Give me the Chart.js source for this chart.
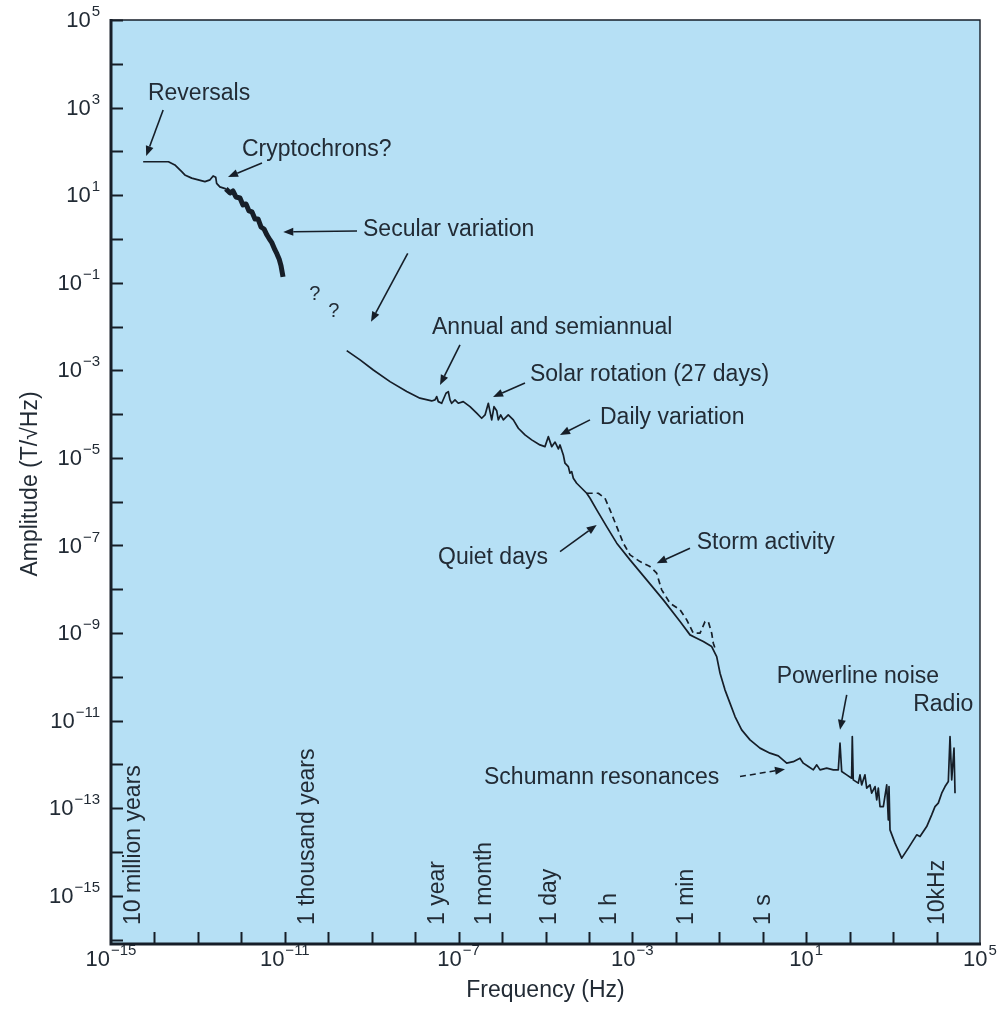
<!DOCTYPE html>
<html>
<head>
<meta charset="utf-8">
<script src="https://cdn.jsdelivr.net/npm/chart.js@4.4.1/dist/chart.umd.min.js"></script>
<style>
  html, body { margin: 0; padding: 0; background: #ffffff; }
  #wrap { width: 1000px; height: 1014px; }
</style>
</head>
<body>
<div id="wrap"><canvas id="c" width="1000" height="1014"></canvas></div>
<script>
// Geomagnetic field amplitude spectrum, frequency (Hz) vs amplitude (T/√Hz)

// Reversals and cryptochrons (thin trace)
const reversals = [
  [5.5e-15, 58], [2.1e-14, 58], [2.95e-14, 49], [4.3e-14, 34], [5.0e-14, 29],
  [7.2e-14, 24.5], [1.02e-13, 22.4], [1.45e-13, 20.4], [1.9e-13, 22.4], [2.24e-13, 27.5],
  [2.57e-13, 25.7], [2.7e-13, 18.6], [3.2e-13, 15.5], [4.4e-13, 13.9]
];

// Secular variation (dense, noisy trace)
const secular = [
  [4.4e-13, 13.9], [5.5e-13, 11.2], [6.4e-13, 12.5], [7.5e-13, 9.1], [9.3e-13, 8.6],
  [1.09e-12, 5.97], [1.28e-12, 6.3], [1.5e-12, 4.36], [1.76e-12, 4.13], [2.06e-12, 2.86],
  [2.42e-12, 2.86], [2.83e-12, 1.88], [3.32e-12, 1.69], [3.89e-12, 1.23], [4.56e-12, 0.95],
  [5.07e-12, 0.81], [5.94e-12, 0.56], [6.6e-12, 0.455], [7.4e-12, 0.35], [8.2e-12, 0.242],
  [9.1e-12, 0.136]
];

// Quiet-day spectrum from decades down to radio frequencies
const quiet = [
  [2.66e-10, 2.82e-3], [5.4e-10, 1.73e-3], [1.09e-9, 1.02e-3], [2.64e-9, 5.52e-4], [6.4e-9, 3.27e-4],
  [1.29e-8, 2.31e-4], [2.4e-8, 2.0e-4], [2.86e-8, 2.11e-4], [3.13e-8, 2.51e-4], [3.41e-8, 1.93e-4],
  [4.08e-8, 1.77e-4], [5.13e-8, 3.0e-4], [5.8e-8, 3.27e-4], [6.34e-8, 2.11e-4], [6.93e-8, 1.77e-4],
  [8.26e-8, 2.11e-4], [9.84e-8, 1.77e-4], [1.28e-7, 1.93e-4], [1.83e-7, 1.48e-4], [2.61e-7, 1.05e-4],
  [3.4e-7, 8.05e-5], [4.06e-7, 9.6e-5], [4.83e-7, 1.77e-4], [5.28e-7, 1.14e-4], [5.78e-7, 7.38e-5],
  [6.53e-7, 1.48e-4], [7.53e-7, 1.2e-4], [8.2e-7, 7.38e-5], [9.31e-7, 9.6e-5], [1.07e-6, 7.38e-5],
  [1.39e-6, 9.6e-5], [1.82e-6, 7.38e-5], [2.37e-6, 4.76e-5], [3.37e-6, 3.35e-5], [4.81e-6, 2.58e-5],
  [7.46e-6, 1.98e-5], [9.73e-6, 1.81e-5], [1.16e-5, 3.06e-5], [1.39e-5, 1.81e-5], [1.66e-5, 2.3e-5],
  [1.98e-5, 1.6e-5], [2.16e-5, 1.98e-5], [2.57e-5, 1.17e-5], [2.81e-5, 7.57e-6], [3.35e-5, 6.32e-6],
  [3.66e-5, 4.48e-6], [4.01e-5, 4.86e-6], [4.37e-5, 3.44e-6], [5.22e-5, 2.64e-6], [6.81e-5, 2.03e-6],
  [8.87e-5, 1.56e-6], [1.06e-4, 1.2e-6], [1.51e-4, 6.5e-7], [2.56e-4, 2.7e-7], [4.36e-4, 1.13e-7],
  [8.81e-4, 4.69e-8], [2.13e-3, 1.64e-8], [5.14e-3, 5.73e-9], [1.25e-2, 1.83e-9], [2.12e-2, 9.1e-10],
  [3.02e-2, 7.66e-10], [4.29e-2, 6.4e-10], [6.68e-2, 4.92e-10], [8.71e-2, 2.91e-10], [0.104, 1.21e-10],
  [0.135, 5.05e-11], [0.176, 2.51e-11], [0.23, 1.24e-11], [0.327, 6.17e-12], [0.509, 3.65e-12],
  [0.865, 2.36e-12], [1.47, 1.81e-12], [2.28, 1.57e-12], [3.56, 1.07e-12], [5.05, 1.16e-12],
  [7.19, 1.39e-12], [8.57, 1.07e-12], [11.2, 8.95e-13], [14.6, 7.53e-13], [17.5, 9.8e-13],
  [20.8, 7.53e-13], [29.6, 8.22e-13], [42.1, 7.53e-13], [54.8, 7.53e-13], [60, 3.06e-12],
  [65.6, 6.89e-13], [85.5, 5.79e-13], [111, 4.86e-13], [115, 4.34e-12], [121, 4.45e-13],
  [158, 3.74e-13], [173, 5.79e-13], [189, 3.42e-13], [225, 5.79e-13], [247, 2.88e-13],
  [294, 3.42e-13], [321, 2.21e-13], [384, 3.13e-13], [420, 1.56e-13], [457, 2.88e-13],
  [500, 1.09e-13], [596, 1.09e-13], [713, 3.42e-13], [776, 5.43e-14], [805, 3.13e-13],
  [849, 3.21e-14], [1107, 1.6e-14], [1578, 7.26e-15], [2239, 1.23e-14], [3491, 2.47e-14],
  [4159, 2.26e-14], [5929, 3.82e-14], [7727, 7.06e-14], [9204, 1.09e-13], [10965, 1.31e-13],
  [13152, 2.21e-13], [15668, 3.13e-13], [18664, 4.07e-13], [20417, 4.34e-12], [22336, 4.45e-13],
  [25235, 2.36e-12], [26607, 2.21e-13]
];

// Storm-time spectrum (dashed)
const storm = [
  [8.87e-5, 1.56e-6], [1.64e-4, 1.56e-6], [2.34e-4, 1.2e-6], [3.05e-4, 6.5e-7], [4.36e-4, 2.7e-7],
  [6.18e-4, 1.13e-7], [8.81e-4, 6.1e-8], [1.5e-3, 4.29e-8], [2.54e-3, 3.3e-8], [3.62e-3, 2.33e-8],
  [4.72e-3, 9.7e-9], [7.35e-3, 4.81e-9], [1.25e-2, 3.39e-9], [1.78e-2, 2.0e-9], [2.52e-2, 9.95e-10],
  [3.6e-2, 9.95e-10], [4.69e-2, 1.83e-9], [5.58e-2, 1.83e-9], [6.68e-2, 9.95e-10], [7.28e-2, 5.87e-10],
  [7.96e-2, 4.52e-10]
];

// Axis tick decades and labelled powers of ten
const xTickPowers = [-14, -13, -12, -11, -10, -9, -8, -7, -6, -5, -4, -3, -2, -1, 0, 1, 2, 3, 4];
const xLabelPowers = [-15, -11, -7, -3, 1, 5];
const yTickPowers = [-16, -15, -14, -13, -12, -11, -10, -9, -8, -7, -6, -5, -4, -3, -2, -1, 0, 1, 2, 3, 4];
const yLabelPowers = [5, 3, 1, -1, -3, -5, -7, -9, -11, -13, -15];

// Characteristic periods marked along the frequency axis
const periodNames = ['10 million years', '1 thousand years', '1 year', '1 month', '1 day', '1 h', '1 min', '1 s', '10kHz'];
const periodFreqs = [3.17e-15, 3.17e-11, 3.17e-8, 3.8e-7, 1.16e-5, 2.78e-4, 1.67e-2, 1, 1e4];

// Callouts: text anchor and arrow ends given as log10(frequency), log10(amplitude)
const notes = [
  { text: 'Reversals', at: [-14.15, 3.31], arrows: [[[-13.80, 2.945], [-14.19, 1.895]]] },
  { text: 'Cryptochrons?', at: [-11.985, 2.03], arrows: [[[-11.525, 1.735], [-12.307, 1.416]]] },
  { text: 'Secular variation', at: [-9.20, 0.205], arrows: [[[-9.338, 0.183], [-11.035, 0.160]], [[-8.171, -0.327], [-9.016, -1.888]]] },
  { text: '?', at: [-10.436, -1.279], size: 20 },
  { text: '?', at: [-9.999, -1.660], size: 20 },
  { text: 'Annual and semiannual', at: [-7.612, -2.032], arrows: [[[-6.968, -2.42], [-7.428, -3.333]]] },
  { text: 'Solar rotation (27 days)', at: [-5.357, -3.105], arrows: [[[-5.472, -3.288], [-6.208, -3.607]]] },
  { text: 'Daily variation', at: [-3.746, -4.087], arrows: [[[-3.976, -4.132], [-4.666, -4.475]]] },
  { text: 'Quiet days', at: [-7.474, -7.283], arrows: [[[-4.666, -7.139], [-3.822, -6.530]]] },
  { text: 'Storm activity', at: [-1.52, -6.941], arrows: [[[-1.674, -7.062], [-2.441, -7.408]]] },
  { text: 'Powerline noise', at: [0.321, -9.993], arrows: [[[1.932, -10.411], [1.778, -11.21]]] },
  { text: 'Radio', at: [4.846, -10.639], align: 'right' },
  { text: 'Schumann resonances', at: [-6.415, -12.306], arrows: [[[-0.524, -12.276], [0.512, -12.107]]], dashed: true }
];

const INK = '#161e28';
const TEXT = '#222b35';
const PANEL = '#b6e0f5';
const FONT = '"Liberation Sans", Arial, Helvetica, sans-serif';

const toPoints = arr => arr.map(p => ({ x: p[0], y: p[1] }));

function arrow(ctx, x1, y1, x2, y2, dashed) {
  const ang = Math.atan2(y2 - y1, x2 - x1);
  const head = 10, half = 4;
  const bx = x2 - head * Math.cos(ang), by = y2 - head * Math.sin(ang);
  ctx.save();
  ctx.strokeStyle = INK;
  ctx.fillStyle = INK;
  ctx.lineWidth = 1.6;
  if (dashed) ctx.setLineDash([6, 4]);
  ctx.beginPath();
  ctx.moveTo(x1, y1);
  ctx.lineTo(bx, by);
  ctx.stroke();
  ctx.setLineDash([]);
  ctx.beginPath();
  ctx.moveTo(x2, y2);
  ctx.lineTo(bx + half * Math.sin(ang), by - half * Math.cos(ang));
  ctx.lineTo(bx - half * Math.sin(ang), by + half * Math.cos(ang));
  ctx.closePath();
  ctx.fill();
  ctx.restore();
}

function powerLabel(ctx, p, x, y, align) {
  const base = '10';
  const sup = p < 0 ? '\u2212' + (-p) : String(p);
  ctx.font = '22px ' + FONT;
  const wb = ctx.measureText(base).width;
  ctx.font = '15px ' + FONT;
  const ws = ctx.measureText(sup).width;
  const x0 = align === 'right' ? x - wb - ws - 1 : x - (wb + ws + 1) / 2;
  ctx.textAlign = 'left';
  ctx.textBaseline = 'middle';
  ctx.font = '22px ' + FONT;
  ctx.fillText(base, x0, y);
  ctx.font = '15px ' + FONT;
  ctx.fillText(sup, x0 + wb + 1, y - 9);
}

const decor = {
  id: 'decor',
  beforeDraw(chart) {
    const { ctx, chartArea: a } = chart;
    ctx.save();
    ctx.fillStyle = PANEL;
    ctx.fillRect(a.left, a.top, a.right - a.left, a.bottom - a.top);
    ctx.restore();
  },
  afterDraw(chart) {
    const { ctx, chartArea: a } = chart;
    const xs = chart.scales.x, ys = chart.scales.y;
    const px = lx => xs.getPixelForValue(Math.pow(10, lx));
    const py = ly => ys.getPixelForValue(Math.pow(10, ly));
    ctx.save();

    // frame: heavy left/bottom axes, light top/right edges
    ctx.strokeStyle = INK;
    ctx.lineWidth = 1.4;
    ctx.beginPath();
    ctx.moveTo(a.left, a.top); ctx.lineTo(a.right, a.top); ctx.lineTo(a.right, a.bottom);
    ctx.stroke();
    ctx.lineWidth = 3;
    ctx.beginPath();
    ctx.moveTo(a.left, a.top - 1); ctx.lineTo(a.left, a.bottom); ctx.lineTo(a.right + 1, a.bottom);
    ctx.stroke();

    // inward ticks
    ctx.lineWidth = 2;
    const tickLen = 12;
    ctx.beginPath();
    for (const p of yTickPowers.concat([5])) {
      const y = Math.round(py(p)) + 0.5;
      ctx.moveTo(a.left, y); ctx.lineTo(a.left + tickLen, y);
    }
    for (const p of xTickPowers) {
      const x = Math.round(px(p)) + 0.5;
      ctx.moveTo(x, a.bottom); ctx.lineTo(x, a.bottom - tickLen);
    }
    ctx.stroke();

    // tick labels
    ctx.fillStyle = TEXT;
    for (const p of yLabelPowers) powerLabel(ctx, p, a.left - 11, py(p) + 1, 'right');
    for (const p of xLabelPowers) powerLabel(ctx, p, px(p), a.bottom + 16, 'center');

    // axis titles
    ctx.font = '23px ' + FONT;
    ctx.textAlign = 'center';
    ctx.textBaseline = 'middle';
    ctx.fillText('Frequency (Hz)', (a.left + a.right) / 2, 991);
    ctx.save();
    ctx.translate(31, 484);
    ctx.rotate(-Math.PI / 2);
    ctx.fillText('Amplitude (T/\u221AHz)', 0, 0);
    ctx.restore();

    // period markers, written upward from just above the axis ticks
    ctx.font = '23px ' + FONT;
    periodNames.forEach((name, i) => {
      const x = xs.getPixelForValue(periodFreqs[i]);
      ctx.save();
      ctx.translate(x + 1, a.bottom - 19);
      ctx.rotate(-Math.PI / 2);
      ctx.textAlign = 'left';
      ctx.textBaseline = 'middle';
      ctx.fillText(name, 0, 0);
      ctx.restore();
    });

    // callouts
    for (const n of notes) {
      ctx.font = (n.size || 23) + 'px ' + FONT;
      ctx.textAlign = n.align || 'left';
      ctx.textBaseline = 'middle';
      ctx.fillStyle = TEXT;
      ctx.fillText(n.text, px(n.at[0]), py(n.at[1]));
      (n.arrows || []).forEach(ar => {
        arrow(ctx, px(ar[0][0]), py(ar[0][1]), px(ar[1][0]), py(ar[1][1]), n.dashed);
      });
    }
    ctx.restore();
  }
};

const lineSet = (label, pts, width, dash) => ({
  label,
  data: toPoints(pts),
  showLine: true,
  borderColor: INK,
  backgroundColor: INK,
  borderWidth: width,
  borderDash: dash || [],
  borderJoinStyle: 'round',
  pointRadius: 0,
  tension: 0,
  fill: false
});

new Chart(document.getElementById('c'), {
  type: 'scatter',
  data: {
    datasets: [
      lineSet('Reversals', reversals, 1.7),
      lineSet('Secular variation', secular, 5),
      lineSet('Quiet days', quiet, 1.7),
      lineSet('Storm activity', storm, 1.7, [6, 4])
    ]
  },
  options: {
    responsive: false,
    animation: false,
    events: [],
    layout: { padding: { top: 20, right: 20, left: 0, bottom: 0 } },
    plugins: { legend: { display: false }, tooltip: { enabled: false } },
    scales: {
      x: {
        type: 'logarithmic',
        min: 1e-15,
        max: 1e5,
        grid: { display: false },
        border: { display: false },
        ticks: { display: false },
        afterFit(s) { s.height = 70; }
      },
      y: {
        type: 'logarithmic',
        min: Math.pow(10, -16.1),
        max: 1e5,
        grid: { display: false },
        border: { display: false },
        ticks: { display: false },
        afterFit(s) { s.width = 111; }
      }
    }
  },
  plugins: [decor]
});
</script>
</body>
</html>
